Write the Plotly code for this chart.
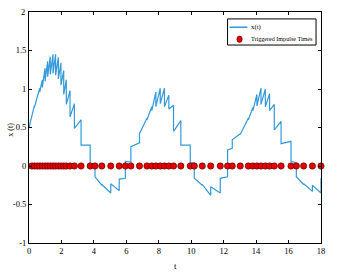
import plotly.graph_objects as go

# Impulse (trigger) times
impulse_t = [0.17, 0.33, 0.50, 0.66, 0.82, 0.99, 1.15, 1.31, 1.48, 1.64, 1.81, 1.97, 2.14, 2.30,
             2.53, 2.80, 3.21, 3.77, 4.07, 4.49, 5.04, 5.56, 5.94, 6.28, 6.81, 7.27, 7.57, 7.82,
             8.09, 8.35, 8.62, 8.91, 9.36, 9.94, 10.19, 10.68, 11.20, 11.79, 12.24, 12.53, 13.02,
             13.52, 13.80, 14.05, 14.30, 14.57, 14.83, 15.12, 15.54, 16.15, 16.48, 16.93, 17.47, 18.00]
# x(t) just before each impulse
x_before = [0.66, 0.78, 0.90, 1.01, 1.12, 1.27, 1.36, 1.42, 1.45, 1.45, 1.41, 1.34, 1.24, 1.12,
            0.98, 0.81, 0.60, 0.27, 0.02, -0.25, -0.35, -0.32, -0.16, 0.05, 0.30, 0.62, 0.77, 0.96,
            1.01, 1.01, 0.92, 0.79, 0.59, 0.27, 0.04, -0.25, -0.38, -0.35, -0.14, 0.23, 0.42,
            0.62, 0.76, 0.93, 1.01, 1.00, 0.94, 0.80, 0.58, 0.32, 0.04, -0.24, -0.33, -0.35]
# x(t) just after each impulse
x_after = [0.64, 0.76, 0.87, 0.96, 1.02, 1.10, 1.16, 1.19, 1.20, 1.18, 1.13, 1.05, 0.93, 0.80,
           0.64, 0.49, 0.27, 0.02, -0.14, -0.24, -0.23, -0.17, 0.06, 0.25, 0.42, 0.60, 0.72, 0.77,
           0.81, 0.77, 0.74, 0.45, 0.27, 0.04, -0.16, -0.24, -0.27, -0.16, 0.21, 0.34, 0.41,
           0.60, 0.72, 0.78, 0.80, 0.77, 0.72, 0.47, 0.29, 0.06, -0.14, -0.23, -0.25, -0.16]
t0, x0 = 0.0, 0.50

x_ticks = [0, 2, 4, 6, 8, 10, 12, 14, 16, 18]
y_ticks = [-1, -0.5, 0, 0.5, 1, 1.5, 2]
legend_labels = ["x(t)", "Triggered Impulse Times"]
x_title = "t"
y_title = "x (t)"

LINE_COLOR = "#3399d8"
DOT_COLOR = "#e00000"
DOT_EDGE = "#600000"

tt = [t0]
xx = [x0]
for ti, b, a in zip(impulse_t, x_before, x_after):
    tt += [ti, ti]
    xx += [b, a]

font = "Liberation Serif, Times New Roman, serif"

fig = go.Figure()
fig.add_trace(go.Scatter(x=tt, y=xx, mode="lines", name=legend_labels[0],
                         line=dict(color=LINE_COLOR, width=1.2), showlegend=False))
fig.add_trace(go.Scatter(x=impulse_t, y=[0] * len(impulse_t), mode="markers",
                         name=legend_labels[1], showlegend=False, cliponaxis=False,
                         marker=dict(color=DOT_COLOR, size=6.3,
                                     line=dict(color=DOT_EDGE, width=0.6))))

axis_common = dict(showline=True, linecolor="black", linewidth=1, mirror="ticks",
                   ticks="inside", ticklen=3, tickcolor="black", showgrid=False,
                   zeroline=False, automargin=False, ticklabeloverflow="allow",
                   tickfont=dict(family=font, size=8.5, color="black"))

# compact MATLAB-style legend drawn in paper coordinates
fig.add_shape(type="rect", xref="paper", yref="paper", x0=0.680, x1=0.983, y0=0.857, y1=0.970,
              line=dict(color="black", width=1), fillcolor="white", layer="above")
fig.add_shape(type="line", xref="paper", yref="paper", x0=0.687, x1=0.748, y0=0.934, y1=0.934,
              line=dict(color=LINE_COLOR, width=1.5), layer="above")
fig.add_shape(type="circle", xref="paper", yref="paper", xsizemode="pixel", ysizemode="pixel",
              xanchor=0.721, yanchor=0.882, x0=-2.7, x1=2.7, y0=-3.2, y1=3.2,
              fillcolor=DOT_COLOR, line=dict(color=DOT_EDGE, width=0.6), layer="above")
fig.add_annotation(xref="paper", yref="paper", x=0.752, y=0.934, text=legend_labels[0],
                   showarrow=False, xanchor="left", yanchor="middle",
                   font=dict(family=font, size=6.8, color="black"))
fig.add_annotation(xref="paper", yref="paper", x=0.752, y=0.882, text=legend_labels[1],
                   showarrow=False, xanchor="left", yanchor="middle",
                   font=dict(family=font, size=6.1, color="black"))

# axis titles
fig.add_annotation(xref="paper", yref="paper", x=0.5, y=-0.098, text=x_title,
                   showarrow=False, xanchor="center", yanchor="middle",
                   font=dict(family=font, size=9, color="black"))
fig.add_annotation(xref="paper", yref="paper", x=-0.062, y=0.49, text=y_title,
                   showarrow=False, xanchor="center", yanchor="middle", textangle=-90,
                   font=dict(family=font, size=8, color="black"))

# top y tick label (sits exactly on the range edge) placed in paper coordinates
fig.add_annotation(xref="paper", yref="paper", x=0, y=1.0, text=str(y_ticks[-1]),
                   showarrow=False, xanchor="right", yanchor="middle", xshift=-3,
                   borderpad=0, font=dict(family=font, size=8.5, color="black"))

fig.update_layout(
    width=339, height=273,
    margin=dict(l=29, r=18, t=12, b=30, autoexpand=False),
    paper_bgcolor="white", plot_bgcolor="white",
    font=dict(family=font, size=9, color="black"),
    xaxis=dict(range=[0, 18], tickvals=x_ticks, ticktext=[str(v) for v in x_ticks],
               **axis_common),
    yaxis=dict(range=[-1, 2], tickvals=y_ticks, ticktext=[str(v) for v in y_ticks[:-1]] + [""],
               **axis_common),
    showlegend=False,
)

# remove the default 8px page margin so the figure sits at the window origin
fig.write_html("out.html", config={"displayModeBar": False},
               post_script="document.body.style.margin='0px';document.body.style.overflow='hidden';")
